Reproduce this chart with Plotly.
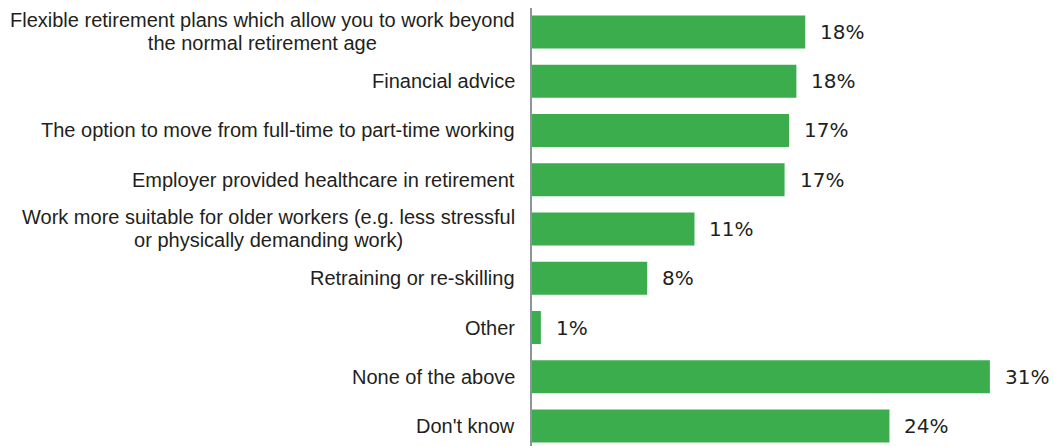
import plotly.graph_objects as go

categories = [
    "Flexible retirement plans which allow you to work beyond<br>the normal retirement age",
    "Financial advice",
    "The option to move from full-time to part-time working",
    "Employer provided healthcare in retirement",
    "Work more suitable for older workers (e.g. less stressful<br>or physically demanding work)",
    "Retraining or re-skilling",
    "Other",
    "None of the above",
    "Don't know",
]
values = [18.5, 17.9, 17.4, 17.1, 11.0, 7.8, 0.6, 31.0, 24.2]
value_labels = ["18%", "18%", "17%", "17%", "11%", "8%", "1%", "31%", "24%"]

ypos = list(range(len(categories)))

fig = go.Figure()
fig.add_trace(go.Bar(
    x=values, y=ypos, orientation="h",
    marker=dict(color="#3BAD4C", line=dict(width=0)),
    width=0.67, hoverinfo="skip",
))

for i, (v, lab, cat) in enumerate(zip(values, value_labels, categories)):
    fig.add_annotation(x=v, y=i, text=lab, showarrow=False, xanchor="left",
                       xshift=13, yanchor="middle",
                       font=dict(family="DejaVu Sans", size=20, color="#231F20"))
    lines = cat.split("<br>")
    styled = "<br>".join('<span style="font-size:20px">%s</span>' % s for s in lines)
    fig.add_annotation(x=0, y=i, text=styled, showarrow=False, xanchor="right",
                       xshift=-15, yanchor="middle", align="center",
                       font=dict(family="Liberation Sans, Arial", size=17.7, color="#231F20"))

fig.update_layout(
    width=1054, height=446,
    margin=dict(l=532, r=0, t=8, b=0),
    plot_bgcolor="white", paper_bgcolor="white",
    showlegend=False,
    xaxis=dict(range=[0, 35.34], visible=False, fixedrange=True),
    yaxis=dict(range=[8.406, -0.487], showticklabels=False, showgrid=False,
               zeroline=False, showline=True, linecolor="#8C949C", linewidth=2,
               ticks=""),
)

fig.write_html("out.html",
               config={"displayModeBar": False, "staticPlot": True},
               post_script="document.body.style.margin='0';document.body.style.overflow='hidden';")
